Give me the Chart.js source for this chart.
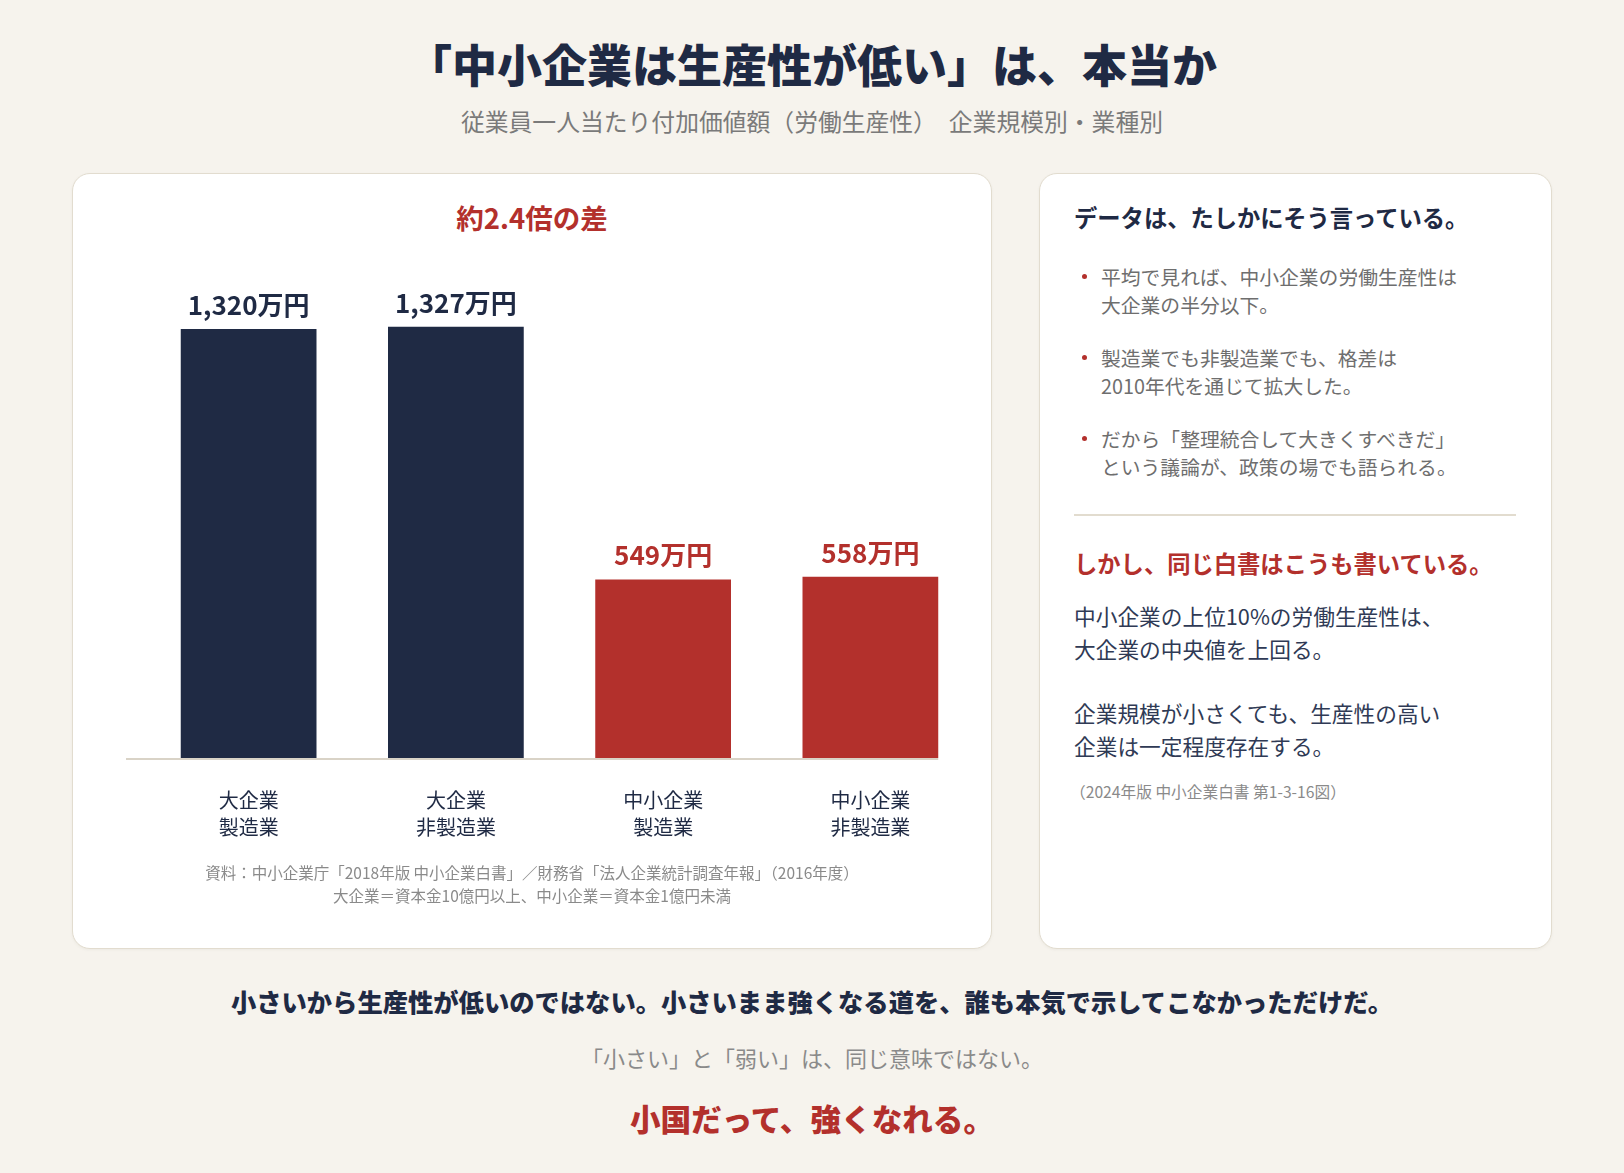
<!DOCTYPE html>
<html lang="ja">
<head>
<meta charset="utf-8">
<script src="https://cdn.jsdelivr.net/npm/chart.js@4.4.1/dist/chart.umd.min.js"></script>
<style>
  html, body { margin: 0; padding: 0; }
  body {
    width: 1624px; height: 1173px; overflow: hidden; position: relative;
    background: #f6f3ed; font-family: "Noto Sans CJK JP", "Noto Sans", sans-serif;
    color: #1f2a44;
  }
  .abs { position: absolute; white-space: nowrap; }
  .center { left: 0; width: 1624px; text-align: center; }
  .card {
    position: absolute; top: 173px; height: 776px; background: #fff; box-sizing: border-box;
    border: 1.5px solid #e2dccf; border-radius: 18px;
    box-shadow: 0 1px 3px rgba(60, 50, 30, 0.05);
  }
  .bullet { position: absolute; left: 1101px; font-size: 19.8px; line-height: 28px; color: #6e6e6e; }
  .bullet::before {
    content: ''; position: absolute; left: -19px; top: 11px; width: 5px; height: 5px;
    border-radius: 50%; background: #b3302c;
  }
</style>
</head>
<body>
  <div class="abs center" style="top:34px; line-height:60px; font-size:45px; font-weight:900; color:#1f2a44;">「中小企業は生産性が低い」は、本当か</div>
  <div class="abs center" style="top:106px; line-height:30px; font-size:23.8px; color:#7a7a7a;">従業員一人当たり付加価値額（労働生産性）　企業規模別・業種別</div>

  <div class="card" style="left:72px; width:920px;"></div>
  <div class="card" style="left:1039px; width:513px;"></div>

  <div class="abs" style="left:72px; width:920px; text-align:center; top:201px; line-height:32px; font-size:27.5px; font-weight:700; color:#b3302c;">約2.4倍の差</div>

  <div class="abs" style="left:126px; top:230px; width:860px; height:649px;">
    <canvas id="barChart"></canvas>
  </div>

  <div class="abs" style="left:72px; width:920px; text-align:center; top:861px; line-height:23px; font-size:15.5px; color:#8a8a8a;">資料：中小企業庁「2018年版 中小企業白書」／財務省「法人企業統計調査年報」（2016年度）<br>大企業＝資本金10億円以上、中小企業＝資本金1億円未満</div>

  <div class="abs" style="left:1074px; top:201px; line-height:32px; font-size:23.3px; font-weight:700; color:#1f2a44;">データは、たしかにそう言っている。</div>

  <div class="bullet" style="top:263px;">平均で見れば、中小企業の労働生産性は<br>大企業の半分以下。</div>
  <div class="bullet" style="top:344px;">製造業でも非製造業でも、格差は<br>2010年代を通じて拡大した。</div>
  <div class="bullet" style="top:425px;">だから「整理統合して大きくすべきだ」<br>という議論が、政策の場でも語られる。</div>

  <div class="abs" style="left:1074px; top:514px; width:442px; height:2px; background:#e2dccf;"></div>

  <div class="abs" style="left:1074px; top:547px; line-height:32px; font-size:23.3px; font-weight:700; color:#b3302c;">しかし、同じ白書はこうも書いている。</div>

  <div class="abs" style="left:1074px; top:599px; line-height:33px; font-size:21.7px; color:#2f3a55;">中小企業の上位10%の労働生産性は、<br>大企業の中央値を上回る。</div>
  <div class="abs" style="left:1074px; top:696px; line-height:33px; font-size:21.7px; color:#2f3a55;">企業規模が小さくても、生産性の高い<br>企業は一定程度存在する。</div>

  <div class="abs" style="left:1070px; top:781px; line-height:22px; font-size:15.7px; color:#8a8a8a;">（2024年版 中小企業白書 第1-3-16図）</div>

  <div class="abs center" style="top:983px; line-height:36px; font-size:25.3px; font-weight:800; color:#1f2a44;">小さいから生産性が低いのではない。小さいまま強くなる道を、誰も本気で示してこなかっただけだ。</div>
  <div class="abs center" style="top:1042px; line-height:30px; font-size:22px; color:#8a8a8a;">「小さい」と「弱い」は、同じ意味ではない。</div>
  <div class="abs center" style="top:1097px; line-height:42px; font-size:30.6px; font-weight:800; color:#b3302c;">小国だって、強くなれる。</div>

<script>
// 従業員一人当たり付加価値額（万円）、2016年度
const categories = [['大企業', '製造業'], ['大企業', '非製造業'], ['中小企業', '製造業'], ['中小企業', '非製造業']];
const values = [1320, 1327, 549, 558];

const NAVY = '#1f2a44';
const RED = '#b3302c';
const FONT = '"Noto Sans CJK JP", "Noto Sans", sans-serif';

function colorFor(i) {
  return categories[i][0] === '大企業' ? NAVY : RED;
}

// bar value labels above each bar
const valueLabels = {
  id: 'valueLabels',
  afterDatasetsDraw(chart) {
    const ctx = chart.ctx;
    chart.getDatasetMeta(0).data.forEach((bar, i) => {
      ctx.save();
      ctx.font = '700 26px ' + FONT;
      ctx.fillStyle = colorFor(i);
      ctx.textAlign = 'center';
      ctx.textBaseline = 'middle';
      ctx.fillText(values[i].toLocaleString('ja-JP') + '万円', bar.x, bar.y - 24);
      ctx.restore();
    });
  }
};

// thin baseline under the bars
const baseline = {
  id: 'baseline',
  afterDatasetsDraw(chart) {
    const ctx = chart.ctx;
    const y = chart.scales.y.getPixelForValue(0);
    const bars = chart.getDatasetMeta(0).data;
    const last = bars[bars.length - 1];
    ctx.save();
    ctx.strokeStyle = '#d9d3c7';
    ctx.lineWidth = 2;
    ctx.beginPath();
    ctx.moveTo(0, y + 1);
    ctx.lineTo(last.x + last.width / 2, y + 1);
    ctx.stroke();
    ctx.restore();
  }
};

window.addEventListener('load', () => {
  Chart.defaults.font.family = FONT;
  new Chart(document.getElementById('barChart').getContext('2d'), {
    type: 'bar',
    data: {
      labels: categories,
      datasets: [{
        data: values,
        backgroundColor: values.map((v, i) => colorFor(i)),
        borderWidth: 0,
        barPercentage: 0.655,
        categoryPercentage: 1
      }]
    },
    options: {
      animation: false,
      responsive: true,
      maintainAspectRatio: false,
      layout: { padding: { left: 19, right: 12, top: 8, bottom: 9 } },
      plugins: { legend: { display: false }, tooltip: { enabled: false } },
      scales: {
        x: {
          grid: { display: false, drawTicks: false },
          border: { display: false },
          ticks: { color: NAVY, padding: 29, font: { size: 20, lineHeight: 1.35 } }
        },
        y: { display: false, min: 0, max: 1600 }
      }
    },
    plugins: [valueLabels, baseline]
  });
});
</script>
</body>
</html>
